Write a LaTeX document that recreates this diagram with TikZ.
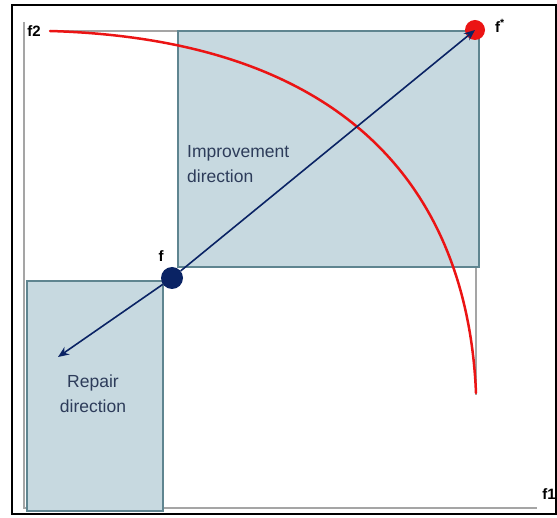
\documentclass[tikz,border=0pt]{standalone}
\usepackage{fontspec}
\setmainfont{Liberation Sans}
\usetikzlibrary{arrows.meta}
\definecolor{boxfill}{RGB}{199,217,224}
\definecolor{boxline}{RGB}{95,133,144}
\definecolor{navy}{RGB}{10,35,100}
\definecolor{axisgray}{RGB}{165,165,165}
\definecolor{labtext}{RGB}{45,60,90}
\definecolor{curvered}{RGB}{235,20,20}
\tikzset{
  axisline/.style={draw=axisgray,line width=1.5pt},
  regionbox/.style={draw=boxline,fill=boxfill,line width=2.2pt},
  dirarrow/.style={draw=navy,line width=1.6pt,-{Stealth[length=11pt,width=9pt]}},
  axislabel/.style={font=\fontsize{15}{17}\selectfont\bfseries,text=black,inner sep=0pt},
  dirlabel/.style={font=\fontsize{17.5}{25}\selectfont,text=labtext,inner sep=0pt},
}
\begin{document}
\begin{tikzpicture}[x=1pt,y=-1pt]
\useasboundingbox (0,0) rectangle (557,518);
% outer frame
\draw[black,line width=2pt] (12,5) rectangle (556,514);
% axes
\coordinate (ytop) at (24,22);
\coordinate (origin) at (24,508);
\coordinate (xend) at (537,508);
\draw[axisline] (ytop) -- (origin) -- (xend);
\coordinate (topl) at (50,31);
\coordinate (topr) at (478,31);
\draw[axisline] (topl) -- (topr);
\coordinate (rtop) at (476,31);
\coordinate (rbot) at (476,395);
\draw[axisline] (rtop) -- (rbot);
% boxes
\node[regionbox,minimum width=301pt,minimum height=236pt,anchor=north west] (impbox) at (177,30) {};
\node[regionbox,minimum width=136pt,minimum height=230pt,anchor=north west] (repbox) at (26,280) {};
% pareto front
\coordinate (pstart) at (50,31);
\coordinate (pend) at (476,393);
\draw[curvered,line width=2.5pt,line cap=round] (pstart) .. controls (357,40) and (468,200) .. (pend);
% points
\node[circle,fill=curvered,minimum size=20pt,inner sep=0pt] (fs) at (475,30) {};
\node[circle,fill=navy,minimum size=22pt,inner sep=0pt] (f) at (172,278) {};
\coordinate (rep) at (58,357);
\draw[dirarrow] (f) -- (fs.center);
\draw[dirarrow] (f) -- (rep);
% labels
\node[axislabel] (f2lab) at (34,31) {f2};
\node[axislabel] (f1lab) at (549,494) {f1};
\node[axislabel] (fslab) at (500,26) {f\textsuperscript{*}};
\node[axislabel] (flab) at (161,256) {f};
\node[dirlabel,align=left,anchor=west] (imptext) at (187,164) {Improvement\\direction};
\node[dirlabel,align=center] (reptext) at (93,394) {Repair\\direction};
\end{tikzpicture}
\end{document}
